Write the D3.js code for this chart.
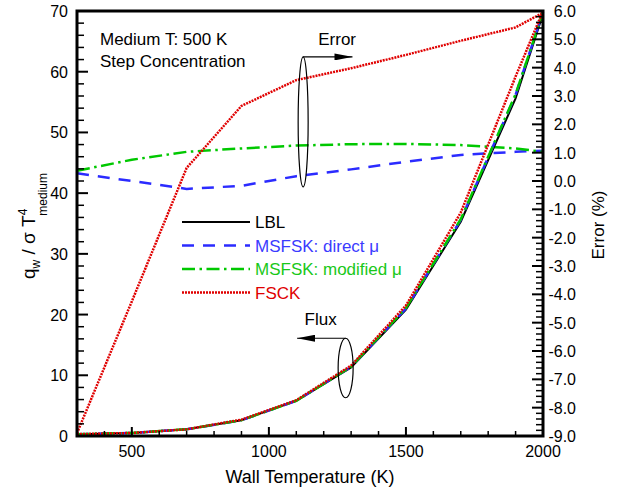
<!DOCTYPE html>
<html>
<head>
<meta charset="utf-8">
<script src="https://cdn.jsdelivr.net/npm/d3@7"></script>
<style>
body { margin: 0; background: #fff; }
text { font-family: "Liberation Sans", Arial, sans-serif; fill: #000; }
</style>
</head>
<body>
<script>
//wall temperatures (K)
var temps = [300, 500, 700, 900, 1100, 1300, 1500, 1700, 1900, 2000];

//wall flux q_w / sigma T^4_medium
var fluxLBL      = [0.3, 0.5, 1.1, 2.6, 5.8, 11.3, 20.8, 35.3, 55.6, 69.5];
var fluxDirect   = [0.3, 0.5, 1.1, 2.6, 5.8, 11.4, 21.0, 35.6, 56.2, 69.8];
var fluxModified = [0.3, 0.5, 1.1, 2.6, 5.8, 11.4, 21.1, 35.7, 56.3, 69.8];
var fluxFSCK     = [0.3, 0.5, 1.1, 2.7, 5.9, 11.6, 21.5, 36.8, 59.2, 70.0];

//relative error against LBL (%)
var errDirect   = [0.27, 0.0, -0.28, -0.17, 0.17, 0.41, 0.68, 0.92, 1.03, 1.07];
var errModified = [0.36, 0.75, 1.03, 1.15, 1.25, 1.30, 1.31, 1.27, 1.15, 1.03];
var errFSCK     = [-8.9, -4.25, 0.46, 2.65, 3.56, 3.98, 4.45, 4.95, 5.42, 5.94];

//legend names
var seriesNames = ["LBL", "MSFSK: direct \u03bc", "MSFSK: modified \u03bc", "FSCK"];

//tick values
var xTicks = [500, 1000, 1500, 2000];
var fluxTicks = [0, 10, 20, 30, 40, 50, 60, 70];
var errTicks = [-9, -8, -7, -6, -5, -4, -3, -2, -1, 0, 1, 2, 3, 4, 5, 6];

//frame
var width = 623,
    height = 493,
    frameL = 77, frameR = 543, frameT = 11, frameB = 436;

var svg = d3.select("body")
    .append("svg")
    .attr("width", width)
    .attr("height", height);

var x = d3.scaleLinear().domain([300, 2000]).range([frameL, frameR]);
var yFlux = d3.scaleLinear().domain([0, 70]).range([frameB, frameT]);
var yErr = d3.scaleLinear().domain([-9, 6]).range([frameB, frameT]);

//line styles per series
var colors = ["#000000", "#2b2bff", "#00c800", "#e00000"];
var textColors = ["#000000", "#3b3bff", "#19c819", "#e00000"];
var dashes = [null, "12,9", "13,4.5,2.5,4.5", "2,1"];
var widths = [2, 2.5, 2.5, 2.5];

var fluxSeries = [fluxLBL, fluxDirect, fluxModified, fluxFSCK];
var errSeries = [null, errDirect, errModified, errFSCK];

//error curves (right axis)
errSeries.forEach(function(s, i){
    if (!s) return;
    var line = d3.line()
        .x(function(d, j){ return x(temps[j]); })
        .y(function(d){ return yErr(d); });
    svg.append("path")
        .datum(s)
        .attr("d", line)
        .attr("fill", "none")
        .attr("stroke", colors[i])
        .attr("stroke-width", widths[i])
        .attr("stroke-dasharray", dashes[i]);
});

//flux curves (left axis)
fluxSeries.forEach(function(s, i){
    var line = d3.line()
        .x(function(d, j){ return x(temps[j]); })
        .y(function(d){ return yFlux(d); });
    svg.append("path")
        .datum(s)
        .attr("d", line)
        .attr("fill", "none")
        .attr("stroke", colors[i])
        .attr("stroke-width", widths[i])
        .attr("stroke-dasharray", dashes[i]);
});

//axes with inward ticks
var xAxis = svg.append("g").attr("transform", "translate(0," + frameB + ")");
xAxis.selectAll(".minor")
    .data(d3.range(400, 2000, 100).filter(function(d){ return d % 500 != 0; }))
    .enter().append("line")
    .attr("x1", function(d){ return x(d); }).attr("x2", function(d){ return x(d); })
    .attr("y1", 0).attr("y2", -5)
    .attr("stroke", "#000").attr("stroke-width", 1.5);
xAxis.selectAll(".major")
    .data(xTicks)
    .enter().append("line")
    .attr("x1", function(d){ return x(d); }).attr("x2", function(d){ return x(d); })
    .attr("y1", 0).attr("y2", -9)
    .attr("stroke", "#000").attr("stroke-width", 2);
xAxis.selectAll("text")
    .data(xTicks)
    .enter().append("text")
    .attr("x", function(d){ return x(d); })
    .attr("y", 21)
    .attr("text-anchor", "middle")
    .attr("font-size", 16)
    .text(function(d){ return d; });

var yAxis = svg.append("g").attr("transform", "translate(" + frameL + ",0)");
yAxis.selectAll(".minor")
    .data(d3.range(2, 70, 2).filter(function(d){ return d % 10 != 0; }))
    .enter().append("line")
    .attr("y1", function(d){ return yFlux(d); }).attr("y2", function(d){ return yFlux(d); })
    .attr("x1", 0).attr("x2", 7)
    .attr("stroke", "#000").attr("stroke-width", 1.5);
yAxis.selectAll(".major")
    .data(fluxTicks)
    .enter().append("line")
    .attr("y1", function(d){ return yFlux(d); }).attr("y2", function(d){ return yFlux(d); })
    .attr("x1", 0).attr("x2", 11)
    .attr("stroke", "#000").attr("stroke-width", 2);
yAxis.selectAll("text")
    .data(fluxTicks)
    .enter().append("text")
    .attr("x", -9)
    .attr("y", function(d){ return yFlux(d) + 6; })
    .attr("text-anchor", "end")
    .attr("font-size", 16)
    .text(function(d){ return d; });

var rAxis = svg.append("g").attr("transform", "translate(" + frameR + ",0)");
rAxis.selectAll(".minor")
    .data(d3.range(-90, 60, 2).filter(function(d){ return d % 10 != 0; }))
    .enter().append("line")
    .attr("y1", function(d){ return yErr(d / 10); }).attr("y2", function(d){ return yErr(d / 10); })
    .attr("x1", 0).attr("x2", -7)
    .attr("stroke", "#000").attr("stroke-width", 1.5);
rAxis.selectAll(".major")
    .data(errTicks)
    .enter().append("line")
    .attr("y1", function(d){ return yErr(d); }).attr("y2", function(d){ return yErr(d); })
    .attr("x1", 0).attr("x2", -11)
    .attr("stroke", "#000").attr("stroke-width", 2);
var fmt = d3.format(".1f");
rAxis.selectAll("text")
    .data(errTicks)
    .enter().append("text")
    .attr("x", 33)
    .attr("y", function(d){ return yErr(d) + 6; })
    .attr("text-anchor", "end")
    .attr("font-size", 16)
    .text(function(d){ return fmt(d).replace("\u2212", "-"); });

//frame box
svg.append("rect")
    .attr("x", frameL).attr("y", frameT)
    .attr("width", frameR - frameL).attr("height", frameB - frameT)
    .attr("fill", "none")
    .attr("stroke", "#000")
    .attr("stroke-width", 3);

//axis titles
svg.append("text")
    .attr("x", (frameL + frameR) / 2)
    .attr("y", 483)
    .attr("text-anchor", "middle")
    .attr("font-size", 18)
    .text("Wall Temperature (K)");

var yTitle = svg.append("text")
    .attr("transform", "translate(35,226) rotate(-90)")
    .attr("text-anchor", "middle")
    .attr("font-size", 19);
yTitle.append("tspan").text("q");
yTitle.append("tspan").attr("font-size", 12).attr("dy", 5).text("w");
yTitle.append("tspan").attr("dy", -5).text(" / \u03c3 T");
yTitle.append("tspan").attr("font-size", 12).attr("dy", -8).text("4");
yTitle.append("tspan").attr("font-size", 12).attr("dx", -7).attr("dy", 20).text("medium");

svg.append("text")
    .attr("transform", "translate(604,225) rotate(-90)")
    .attr("text-anchor", "middle")
    .attr("font-size", 17)
    .text("Error (%)");

//case description
svg.append("text").attr("x", 100).attr("y", 45).attr("font-size", 17).text("Medium T: 500 K");
svg.append("text").attr("x", 100).attr("y", 67).attr("font-size", 17).text("Step Concentration");

//legend
var legend = svg.selectAll(".legend")
    .data(seriesNames)
    .enter().append("g")
    .attr("class", "legend")
    .attr("transform", function(d, i){ return "translate(182," + (222 + i * 23.5) + ")"; });
legend.append("line")
    .attr("x1", 0).attr("x2", 68)
    .attr("stroke", function(d, i){ return colors[i]; })
    .attr("stroke-width", function(d, i){ return widths[i]; })
    .attr("stroke-dasharray", function(d, i){ return dashes[i]; });
legend.append("text")
    .attr("x", 73).attr("y", 6)
    .attr("font-size", 17)
    .style("fill", function(d, i){ return textColors[i]; })
    .text(function(d){ return d; });

//annotations: ellipse + arrow pointing to the axis each group uses
var marker = svg.append("defs").append("marker")
    .attr("id", "head")
    .attr("viewBox", "0 0 10 10")
    .attr("refX", 10).attr("refY", 5)
    .attr("markerWidth", 18).attr("markerHeight", 7)
    .attr("markerUnits", "userSpaceOnUse")
    .attr("orient", "auto")
    .attr("preserveAspectRatio", "none");
marker.append("path").attr("d", "M0,0 L10,5 L0,10 Z").attr("fill", "#000");

//error group
svg.append("ellipse")
    .attr("cx", x(1125)).attr("cy", (yErr(4.38) + yErr(-0.21)) / 2)
    .attr("rx", 5).attr("ry", (yErr(-0.21) - yErr(4.38)) / 2)
    .attr("fill", "none").attr("stroke", "#000").attr("stroke-width", 1.2);
svg.append("line")
    .attr("x1", x(1125)).attr("y1", yErr(4.38))
    .attr("x2", x(1305)).attr("y2", yErr(4.38))
    .attr("stroke", "#000").attr("stroke-width", 1.2)
    .attr("marker-end", "url(#head)");
svg.append("text").attr("x", x(1180)).attr("y", yErr(4.8)).attr("font-size", 17).text("Error");

//flux group
svg.append("ellipse")
    .attr("cx", x(1280)).attr("cy", yFlux(11.2))
    .attr("rx", 7.5).attr("ry", yFlux(11.2) - yFlux(16.1))
    .attr("fill", "none").attr("stroke", "#000").attr("stroke-width", 1.2);
svg.append("line")
    .attr("x1", x(1280)).attr("y1", yFlux(16.1))
    .attr("x2", x(1103)).attr("y2", yFlux(16.1))
    .attr("stroke", "#000").attr("stroke-width", 1.2)
    .attr("marker-end", "url(#head)");
svg.append("text").attr("x", x(1130)).attr("y", yFlux(18.3)).attr("font-size", 17).text("Flux");
</script>
</body>
</html>
